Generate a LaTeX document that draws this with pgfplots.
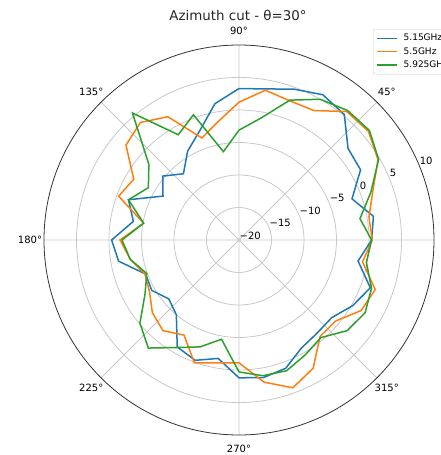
\documentclass[border=0pt]{standalone}
\usepackage{fontspec}
\setmainfont{DejaVu Sans}
\usepackage{pgfplots}
\pgfplotsset{compat=1.18}
\usepackage{pgfplotstable}
\usepgfplotslibrary{polar}
\definecolor{mblue}{HTML}{1F77B4}
\definecolor{morange}{HTML}{FF7F0E}
\definecolor{mgreen}{HTML}{2CA02C}
\definecolor{mgrid}{HTML}{C8C8C8}

% angle, 5.15GHz, 5.5GHz, 5.925GHz (dB)
\pgfplotstableread{
ang b o g
0 0.4 0.5 0.4
10 1.0 0.3 -1.1
20 -1.5 1.9 1.6
30 1.6 4.7 4.8
40 1.9 6.0 6.2
50 5.2 5.8 6.0
60 5.8 3.0 5.0
70 4.7 2.8 2.9
80 3.6 3.4 -1.0
90 3.3 1.2 -3.1
100 1.3 -1.5 -6.2
110 -2.2 -3.3 0.5
120 -4.2 1.9 -1.3
130 -6.7 3.6 5.5
140 -4.7 2.7 -1.9
150 -6.5 -1.3 -3.9
160 -1.9 -0.3 -1.9
170 -3.5 -5.1 -5.1
180 -0.4 -1.7 -2.0
190 -1.2 -3.0 -3.0
200 -4.7 -4.6 -4.9
210 -4.5 -4.1 -3.3
220 -5.9 -2.6 -0.1
230 -5.0 -1.8 1.7
240 -1.0 -3.1 -0.9
250 -0.3 0.1 -2.5
260 -1.5 -0.8 -4.5
270 1.2 -1.1 0.3
280 1.5 2.2 1.2
290 1.0 4.2 1.4
300 -0.8 2.8 0.4
310 -1.3 -0.6 -0.4
320 -1.4 -0.6 1.7
330 0.2 1.7 2.4
340 1.5 2.3 1.7
350 -1.4 -0.7 -0.1
360 0.4 0.5 0.4
}\cuts

\begin{document}
\begin{tikzpicture}[x=1pt,y=1pt]
\clip (0,0) rectangle (441,455);
\begin{polaraxis}[
  at={(239pt,215pt)}, anchor=center,
  scale only axis, width=390pt, height=390pt,
  xmin=0, xmax=360, ymin=0, ymax=30,
  xtick={0,45,...,315}, xticklabels={},
  ytick={5,10,15,20,25}, yticklabels={},
  grid=major,
  major grid style={mgrid, line width=0.8pt},
  axis line style={black!80, line width=0.8pt},
  y axis line style={draw=none},
  major tick length=0pt,
  clip=false,
  legend style={at={(0.8436,1.041)}, anchor=north west,
    font=\fontsize{9}{10.8}\selectfont, draw=black!20, rounded corners=2pt,
    fill=white, cells={anchor=west}, inner xsep=3pt, inner ysep=3pt, row sep=1.2pt,
    /tikz/every odd column/.append style={column sep=4pt}},
  legend image code/.code={\draw[#1] (0pt,0pt) -- (20pt,0pt);},
  every node/.append style={font=\fontsize{9}{10.8}\selectfont, text=black!80},
]
\addplot[mblue, line width=1.5pt] table[x=ang, y expr=\thisrow{b}+20] {\cuts};
\addlegendentry{5.15GHz}
\addplot[morange, line width=1.5pt] table[x=ang, y expr=\thisrow{o}+20] {\cuts};
\addlegendentry{5.5GHz}
\addplot[mgreen, line width=1.5pt] table[x=ang, y expr=\thisrow{g}+20] {\cuts};
\addlegendentry{5.925GHz}

\node at (axis cs:0,32.15) {0°};
\node at (axis cs:45,32.15) {45°};
\node at (axis cs:90,32.15) {90°};
\node at (axis cs:135,32.15) {135°};
\node at (axis cs:180,32.15) {180°};
\node at (axis cs:225,32.15) {225°};
\node at (axis cs:270,32.15) {270°};
\node at (axis cs:315,32.15) {315°};

\node[anchor=south west, inner sep=0.5pt] at (axis cs:22.5,0) {−20};
\node[anchor=south west, inner sep=0.5pt] at (axis cs:22.5,5) {−15};
\node[anchor=south west, inner sep=0.5pt] at (axis cs:22.5,10) {−10};
\node[anchor=south west, inner sep=0.5pt] at (axis cs:22.5,15) {−5};
\node[anchor=south west, inner sep=0.5pt] at (axis cs:22.5,20) {0};
\node[anchor=south west, inner sep=0.5pt] at (axis cs:22.5,25) {5};
\node[anchor=south west, inner sep=0.5pt] at (axis cs:22.5,30) {10};
\end{polaraxis}
\node[anchor=base, font=\fontsize{13.4}{16}\selectfont, text=black!85] at (238,434) {Azimuth cut - θ=30°};
\end{tikzpicture}
\end{document}
